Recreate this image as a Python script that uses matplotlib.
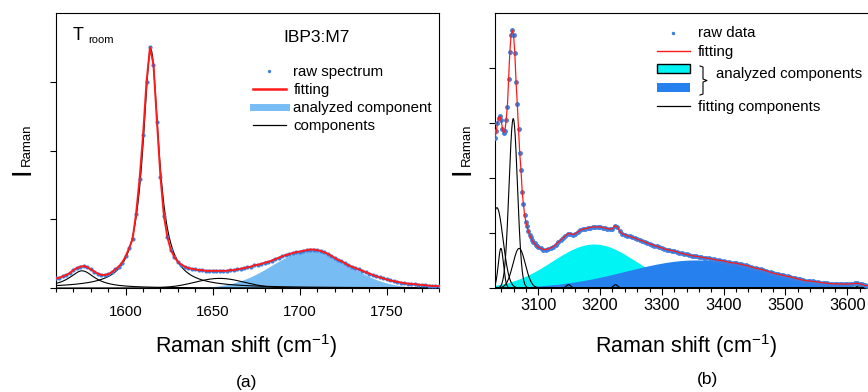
import numpy as np
import matplotlib.pyplot as plt
from matplotlib.lines import Line2D
from matplotlib.patches import Patch

plt.rcParams['font.family'] = ['Liberation Sans', 'DejaVu Sans']
plt.rcParams['mathtext.fontset'] = 'custom'
plt.rcParams['mathtext.rm'] = 'Liberation Sans'

# ---------------- panel (a) : 1560-1780 cm-1 ----------------
shift_a = np.arange(1560, 1781, 2)
raw_a = [0.14, 0.15, 0.17, 0.19, 0.22, 0.26, 0.29, 0.31, 0.32, 0.30,
         0.27, 0.24, 0.21, 0.19, 0.19, 0.20, 0.23, 0.27, 0.31, 0.37,
         0.46, 0.58, 0.71, 1.08, 1.58, 2.22, 3.00, 3.50, 3.25, 2.42,
         1.62, 1.05, 0.74, 0.55, 0.45, 0.38, 0.34, 0.31, 0.29, 0.28,
         0.27, 0.26, 0.26, 0.25, 0.25, 0.25, 0.25, 0.25, 0.25, 0.25,
         0.26, 0.26, 0.27, 0.28, 0.29, 0.30, 0.31, 0.33, 0.34, 0.35,
         0.37, 0.38, 0.40, 0.42, 0.44, 0.46, 0.48, 0.49, 0.51, 0.52,
         0.53, 0.54, 0.55, 0.56, 0.56, 0.55, 0.54, 0.52, 0.50, 0.47,
         0.44, 0.41, 0.39, 0.36, 0.33, 0.31, 0.29, 0.27, 0.25, 0.23,
         0.21, 0.19, 0.17, 0.155, 0.14, 0.125, 0.11, 0.10, 0.09, 0.08,
         0.07, 0.065, 0.06, 0.055, 0.05, 0.045, 0.04, 0.035, 0.03, 0.03,
         0.025]

# fitted components (centre, width, height)
lor_a = [(1575, 9, 0.25), (1614.5, 5.5, 3.47)]
gau_a = [(1654, 14, 0.14)]
analyzed_a = (1706, 22, 0.545)

# ---------------- panel (b) : 3030-3635 cm-1 ----------------
shift_b = np.concatenate([np.arange(3030, 3101, 2), np.arange(3104, 3633, 4)])
raw_b = [2.72, 2.85, 3.00, 3.10, 3.12, 3.05, 2.90, 2.82, 2.85, 3.05,
         3.30, 3.80, 4.30, 4.60, 4.69, 4.60, 4.28, 3.75, 3.35, 2.90,
         2.45, 2.15, 1.75, 1.52, 1.32, 1.20, 1.12, 1.03, 0.97, 0.92,
         0.87, 0.84, 0.81, 0.78, 0.76, 0.74,
         0.72, 0.70, 0.70, 0.71, 0.73, 0.75, 0.79, 0.83, 0.87, 0.91,
         0.95, 0.99, 0.99, 0.97, 0.99, 1.02, 1.05, 1.07, 1.08, 1.09,
         1.10, 1.11, 1.11, 1.11, 1.11, 1.10, 1.09, 1.08, 1.07, 1.08,
         1.13, 1.11, 1.03, 0.99, 0.97, 0.95, 0.94, 0.92, 0.91, 0.89,
         0.87, 0.86, 0.84, 0.82, 0.80, 0.79, 0.77, 0.76, 0.74, 0.73,
         0.71, 0.70, 0.69, 0.68, 0.67, 0.66, 0.64, 0.63, 0.62, 0.61,
         0.60, 0.59, 0.58, 0.575, 0.57, 0.56, 0.55, 0.545, 0.54, 0.53,
         0.52, 0.51, 0.505, 0.50, 0.49, 0.48, 0.47, 0.46, 0.455, 0.45,
         0.44, 0.43, 0.42, 0.41, 0.40, 0.385, 0.37, 0.36, 0.35, 0.34,
         0.33, 0.315, 0.30, 0.285, 0.27, 0.26, 0.25, 0.24, 0.23, 0.22,
         0.21, 0.20, 0.19, 0.18, 0.165, 0.155, 0.145, 0.135, 0.13, 0.125,
         0.12, 0.115, 0.11, 0.10, 0.095, 0.09, 0.085, 0.08, 0.078, 0.076,
         0.074, 0.073, 0.072, 0.072, 0.073, 0.075, 0.078, 0.082, 0.085, 0.08,
         0.065, 0.05, 0.04]

gau_b = [(3033, 10, 1.46), (3039.5, 4.2, 0.72), (3059.5, 6.8, 3.08),
         (3069, 10, 0.72), (3149, 3.5, 0.06), (3225, 3.5, 0.06), (3619, 4, 0.04)]
analyzed_b = [(3190, 68, 0.80), (3355, 112, 0.51)]

raw_col = '#3d7fe0'
fit_col = '#ff1a1a'
light_blue = '#78bcf4'
cyan = '#00f4f4'
blue = '#2681ee'


def lor(x, c, w, h):
    return h / (1 + ((x - c) / w) ** 2)


def gau(x, c, s, h):
    return h * np.exp(-(x - c) ** 2 / (2 * s ** 2))


fig = plt.figure(figsize=(8.68, 3.92), dpi=100)
axa = fig.add_axes([0.0645, 0.2653, 0.4412, 0.7015])
axb = fig.add_axes([0.5703, 0.2653, 0.4343, 0.7015])

# ---- (a)
xa = np.linspace(1560, 1780, 1200)
axa.fill_between(xa, 0, gau(xa, *analyzed_a), color=light_blue, lw=0, zorder=1)
for p in lor_a:
    axa.plot(xa, lor(xa, *p), color='k', lw=0.8, zorder=2)
for p in gau_a:
    axa.plot(xa, gau(xa, *p), color='k', lw=0.8, zorder=2)
axa.plot(shift_a, raw_a, 'o', color=raw_col, ms=3, mew=0, zorder=3)
axa.plot(shift_a, raw_a, color=fit_col, lw=1.4, zorder=4)

axa.set_xlim(1560, 1780)
axa.set_ylim(0, 4)
axa.set_xticks([1600, 1650, 1700, 1750])
axa.set_xticks(np.arange(1560, 1781, 10), minor=True)
axa.set_yticks([0, 1, 2, 3])
axa.set_yticklabels([])
axa.tick_params(axis='x', which='major', length=5, width=0.8, labelsize=10.8, pad=7)
axa.tick_params(axis='x', which='minor', length=3, width=0.8)
axa.tick_params(axis='y', length=4, width=0.8)

h_a = [Line2D([], [], ls='none', marker='o', ms=2.4, mew=0, color=raw_col),
       Line2D([], [], color=fit_col, lw=1.8),
       Line2D([], [], color=light_blue, lw=5),
       Line2D([], [], color='k', lw=0.9)]
axa.legend(h_a, ['raw spectrum', 'fitting', 'analyzed component', 'components'],
           loc='upper left', bbox_to_anchor=(0.514, 0.811), frameon=False,
           fontsize=10.8, handlelength=2.2, handletextpad=0.5,
           labelspacing=0.27, borderpad=0, borderaxespad=0)

fig.text(73 / 868, 1 - 40 / 392, 'T', fontsize=13)
fig.text(88 / 868, 1 - 43 / 392, 'room', fontsize=8)
fig.text(283 / 868, 1 - 42 / 392, 'IBP3:M7', fontsize=12.5)

# ---- (b)
xb = np.linspace(3030, 3640, 2400)
axb.fill_between(xb, 0, gau(xb, *analyzed_b[0]), color=cyan, lw=0, zorder=1)
axb.fill_between(xb, 0, gau(xb, *analyzed_b[1]), color=blue, lw=0, zorder=1.5)
for p in gau_b:
    axb.plot(xb, gau(xb, *p), color='k', lw=0.8, zorder=2)
axb.plot(shift_b, raw_b, 'o', color=raw_col, ms=3.5, mew=0, zorder=3)
axb.plot(shift_b, raw_b, color=fit_col, lw=0.9, zorder=4)

axb.set_xlim(3030, 3640)
axb.set_ylim(0, 5)
axb.set_xticks([3100, 3200, 3300, 3400, 3500, 3600])
axb.set_xticks(np.arange(3040, 3640, 20), minor=True)
axb.set_yticks([0, 1, 2, 3, 4])
axb.set_yticklabels([])
axb.tick_params(axis='x', which='major', length=5, width=0.8, labelsize=11.8, pad=2)
axb.tick_params(axis='x', which='minor', length=3, width=0.8)
axb.tick_params(axis='y', length=4, width=0.8)

h_b = [Line2D([], [], ls='none', marker='o', ms=2.5, mew=0, color=raw_col),
       Line2D([], [], color=fit_col, lw=1.0),
       Patch(facecolor=cyan, edgecolor='k', lw=1),
       Patch(facecolor=blue, edgecolor='none'),
       Line2D([], [], color='k', lw=0.9)]
axb.legend(h_b, ['raw data', 'fitting', '', '', 'fitting components'],
           loc='upper left', bbox_to_anchor=(0.429, 0.951), frameon=False,
           fontsize=10.8, handlelength=2.2, handleheight=0.55, handletextpad=0.55,
           labelspacing=0.29, borderpad=0, borderaxespad=0)
bx = [0.5438, 0.5517, 0.5517, 0.5623, 0.5517, 0.5517, 0.5438]
by = [0.8073, 0.8036, 0.7600, 0.7545, 0.7491, 0.7055, 0.7018]
axb.plot(bx, by, color='k', lw=0.8, transform=axb.transAxes, clip_on=False)
axb.text(0.586, 0.78, 'analyzed components', fontsize=10.8,
         va='center', transform=axb.transAxes)

# ---- axis labels
for cx in (246.5, 686.5):
    fig.text(cx / 868, 1 - 353 / 392, 'Raman shift (cm$^{-1}$)', fontsize=15.5,
             ha='center', va='baseline')
fig.text(247 / 868, 1 - 387 / 392, '(a)', fontsize=12.5, ha='center', va='baseline')
fig.text(708 / 868, 1 - 384 / 392, '(b)', fontsize=12.5, ha='center', va='baseline')

for ix, sx in ((23, 27), (462, 467)):
    fig.text(ix / 868, 1 - 171 / 392, 'I', fontsize=20, rotation=90,
             ha='center', va='center')
    fig.text(sx / 868, 1 - 145 / 392, 'Raman', fontsize=9.5, rotation=90,
             ha='center', va='center')

fig.savefig('out.png', dpi=100)
